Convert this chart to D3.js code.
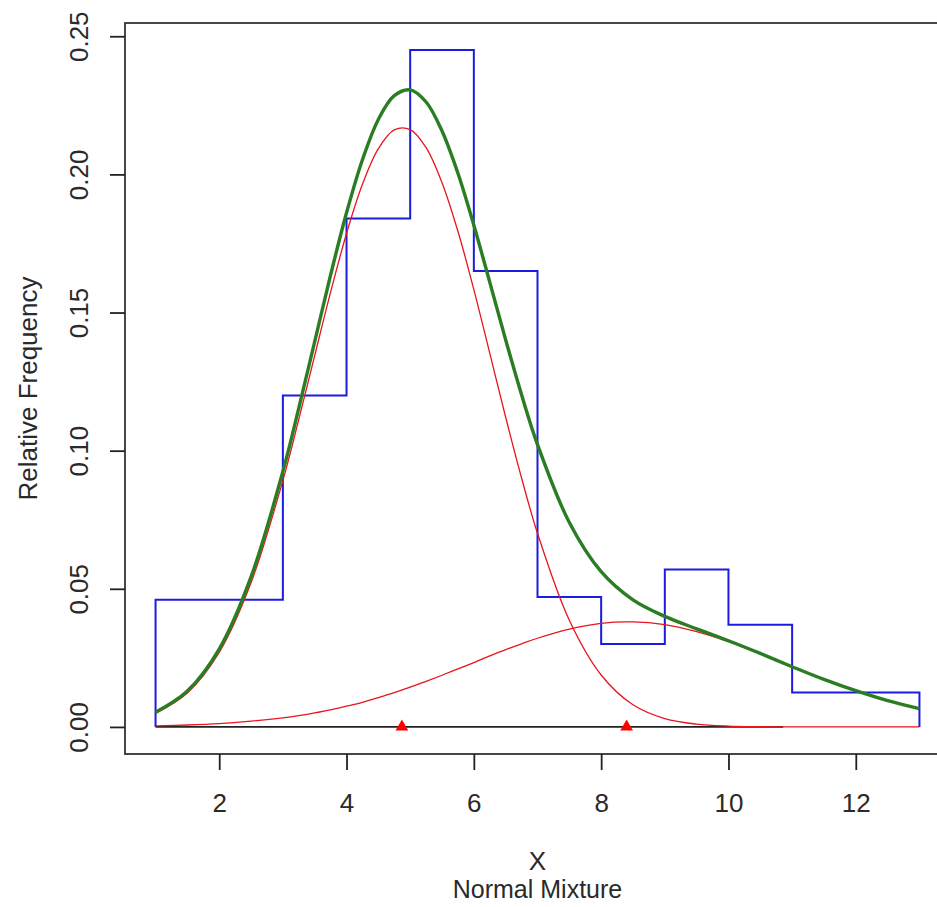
<!DOCTYPE html>
<html>
<head>
<meta charset="utf-8">
<script src="https://cdn.jsdelivr.net/npm/d3@7/dist/d3.min.js"></script>
<style>
  html, body { margin: 0; padding: 0; background: #fff; }
  svg { display: block; }
  text { font-family: "Liberation Sans", Arial, sans-serif; fill: #2a2a2a; }
</style>
</head>
<body>
<svg id="chart" width="937" height="907"></svg>
<script>
// ---- data ----
const binEdges = [1, 3, 4, 5, 6, 7, 8, 9, 10, 11, 13];
const binHeights = [0.046, 0.120, 0.184, 0.245, 0.165, 0.047, 0.030, 0.057, 0.037, 0.0125];

const curveX = [1, 1.5, 2, 2.5, 3, 3.25, 3.5, 3.75, 4, 4.25, 4.5, 4.75, 5, 5.25, 5.5, 5.75, 6, 6.25, 6.5, 6.75, 7, 7.5, 8, 8.5, 9, 9.5, 10, 10.5, 11, 11.5, 12, 12.5, 13];
const component1 = [0.0049, 0.0123, 0.0270, 0.0522, 0.0892, 0.1113, 0.1344, 0.1574, 0.1786, 0.1964, 0.2093, 0.2161, 0.2162, 0.2097, 0.1970, 0.1794, 0.1583, 0.1353, 0.1121, 0.0901, 0.0701, 0.0386, 0.0188, 0.0080, 0.0030, 0.0010, 0.0003, 0.0001, 0, 0, 0, 0, 0];
const component2 = [0.0004, 0.0007, 0.0012, 0.0021, 0.0033, 0.0041, 0.0051, 0.0062, 0.0075, 0.0089, 0.0106, 0.0124, 0.0144, 0.0165, 0.0187, 0.0210, 0.0233, 0.0257, 0.0280, 0.0301, 0.0321, 0.0354, 0.0375, 0.0380, 0.0370, 0.0345, 0.0309, 0.0265, 0.0218, 0.0172, 0.0131, 0.0095, 0.0066];
const mixture    = [0.0053, 0.0130, 0.0282, 0.0543, 0.0925, 0.1154, 0.1395, 0.1636, 0.1861, 0.2053, 0.2199, 0.2285, 0.2306, 0.2262, 0.2157, 0.2004, 0.1816, 0.1610, 0.1401, 0.1202, 0.1022, 0.0740, 0.0562, 0.0460, 0.0400, 0.0355, 0.0312, 0.0266, 0.0218, 0.0172, 0.0131, 0.0095, 0.0066];

const componentMeans = [4.87, 8.40];
const baselineSpan = [1, 10.86];

const xTicks = [2, 4, 6, 8, 10, 12];
const yTicks = [0, 0.05, 0.10, 0.15, 0.20, 0.25];
const xLabel = "X";
const subLabel = "Normal Mixture";
const yLabel = "Relative Frequency";

// ---- layout ----
const plot = { left: 125, right: 950, top: 23, bottom: 754 };
const svg = d3.select("#chart");

const x = d3.scaleLinear().domain([0.52, 13.48]).range([plot.left, plot.right]);
const y = d3.scaleLinear().domain([-0.0098, 0.2548]).range([plot.bottom, plot.top]);

// histogram outline (step)
const stepPts = [[binEdges[0], 0]];
binHeights.forEach((h, i) => {
  stepPts.push([binEdges[i], h]);
  stepPts.push([binEdges[i + 1], h]);
});
stepPts.push([binEdges[binEdges.length - 1], 0]);

const lineXY = d3.line().x(d => x(d[0])).y(d => y(d[1]));
svg.append("path")
  .attr("d", lineXY(stepPts))
  .attr("fill", "none")
  .attr("stroke", "#1c1ce0")
  .attr("stroke-width", 2);

// baseline segment
svg.append("path")
  .attr("d", lineXY([[baselineSpan[0], 0], [baselineSpan[1], 0]]))
  .attr("fill", "none")
  .attr("stroke", "#222")
  .attr("stroke-width", 1.8);

const smooth = d3.line()
  .x((d, i) => x(curveX[i]))
  .y(d => y(d))
  .curve(d3.curveCatmullRom.alpha(0.5));

// components
[component1, component2].forEach(c => {
  svg.append("path")
    .attr("d", smooth(c))
    .attr("fill", "none")
    .attr("stroke", "#e8141e")
    .attr("stroke-width", 1.3);
});

// mixture
svg.append("path")
  .attr("d", smooth(mixture))
  .attr("fill", "none")
  .attr("stroke", "#2b7d24")
  .attr("stroke-width", 3.4);

// mean markers
svg.selectAll(".mean")
  .data(componentMeans)
  .enter().append("path")
  .attr("class", "mean")
  .attr("d", d3.symbol(d3.symbolTriangle).size(70))
  .attr("transform", d => `translate(${x(d)},${y(0)})`)
  .attr("fill", "#ff0000");

// box (left, top, bottom; right side lies beyond the page)
svg.append("rect")
  .attr("x", plot.left)
  .attr("y", plot.top)
  .attr("width", plot.right - plot.left)
  .attr("height", plot.bottom - plot.top)
  .attr("fill", "none")
  .attr("stroke", "#333")
  .attr("stroke-width", 1.8);

// x axis
const xAxis = d3.axisBottom(x).tickValues(xTicks).tickSize(16).tickFormat(d3.format("d"));
const gx = svg.append("g").attr("transform", `translate(0,${plot.bottom})`).call(xAxis);
gx.select(".domain").remove();
gx.selectAll("line").attr("stroke", "#222").attr("stroke-width", 1.8);
gx.selectAll("text")
  .attr("font-size", 26)
  .attr("font-family", "Liberation Sans, Arial, sans-serif")
  .attr("fill", "#2a2a2a")
  .attr("dy", "0.71em")
  .attr("y", 40);

// y axis
const yAxis = d3.axisLeft(y).tickValues(yTicks).tickSize(15).tickFormat(d3.format(".2f"));
const gy = svg.append("g").attr("transform", `translate(${plot.left},0)`).call(yAxis);
gy.select(".domain").remove();
gy.selectAll("line").attr("stroke", "#222").attr("stroke-width", 1.8);
gy.selectAll("text")
  .attr("font-size", 26)
  .attr("font-family", "Liberation Sans, Arial, sans-serif")
  .attr("fill", "#2a2a2a")
  .attr("x", null).attr("dy", null)
  .attr("text-anchor", "middle")
  .attr("transform", "translate(-37,0) rotate(-90)");

// labels
const cx = (plot.left + plot.right) / 2;
svg.append("text").attr("x", cx).attr("y", 870).attr("text-anchor", "middle")
  .attr("font-size", 26).text(xLabel);
svg.append("text").attr("x", cx).attr("y", 898).attr("text-anchor", "middle")
  .attr("font-size", 25).text(subLabel);
svg.append("text")
  .attr("transform", `translate(37,${(plot.top + plot.bottom) / 2}) rotate(-90)`)
  .attr("text-anchor", "middle")
  .attr("font-size", 26).text(yLabel);
</script>
</body>
</html>
